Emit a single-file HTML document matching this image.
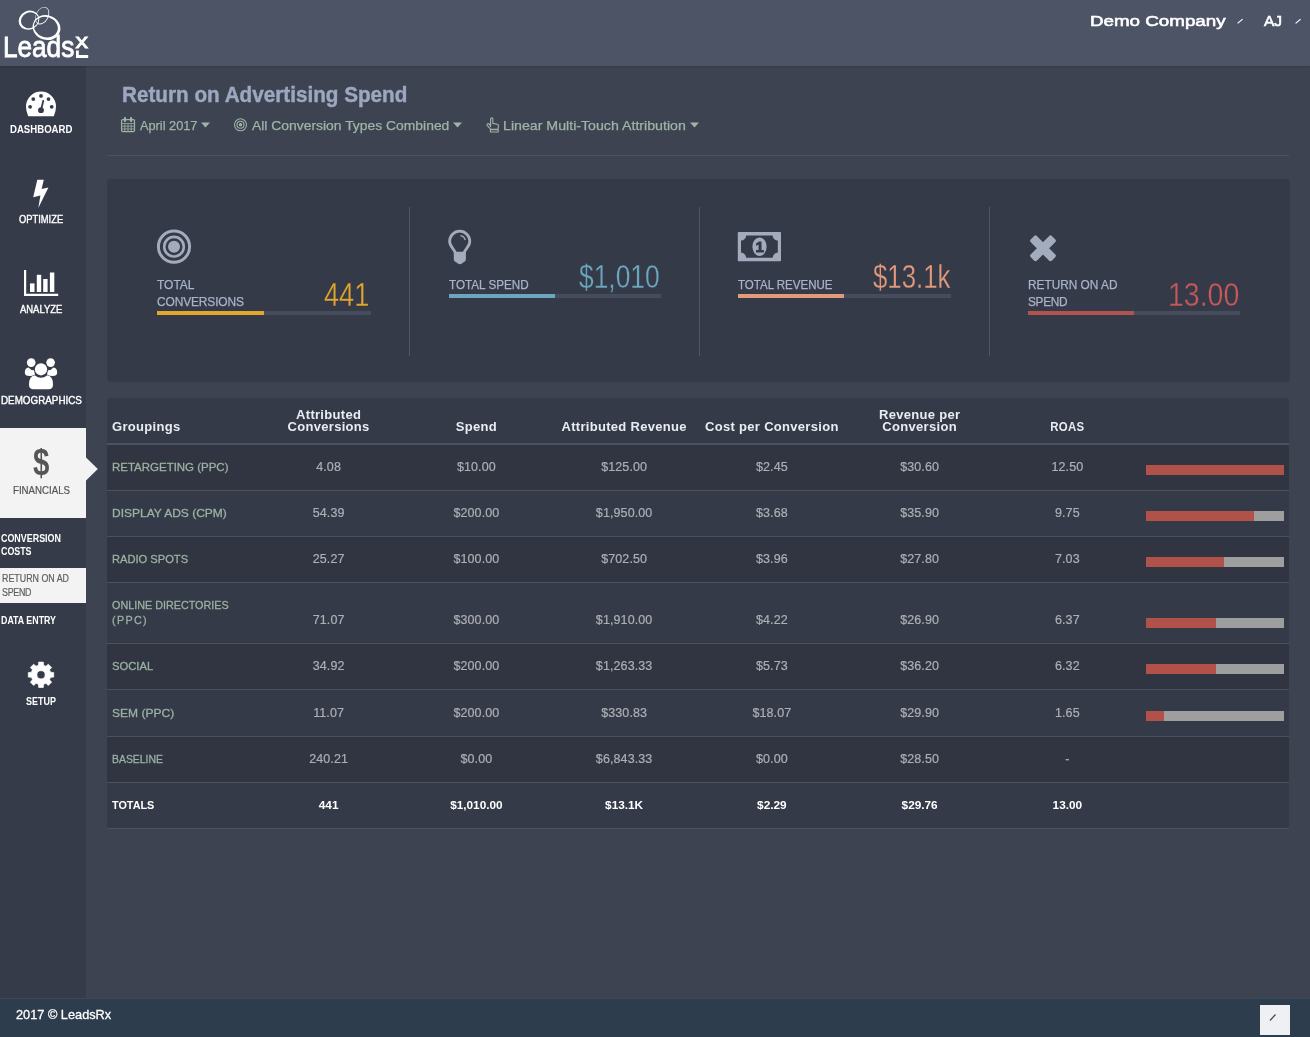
<!DOCTYPE html>
<html lang="en">
<head>
<meta charset="utf-8">
<title>LeadsRx - Return on Advertising Spend</title>
<style>
*{box-sizing:border-box;margin:0;padding:0}
html,body{width:1310px;height:1037px;overflow:hidden}
body{position:relative;background:#3e4352;font-family:"Liberation Sans",Arial,sans-serif;color:#fff;-webkit-font-smoothing:antialiased}
.abs,.t{position:absolute}
.t{white-space:nowrap;line-height:1}
header{position:absolute;left:0;top:0;width:1310px;height:65.5px;background:#4d5465;z-index:2;box-shadow:0 1px 1.5px rgba(0,0,0,.14)}
nav{position:absolute;left:0;top:66px;width:86px;height:932px;background:#353b49}
nav ul{list-style:none}
footer{position:absolute;left:0;top:998px;width:1310px;height:39px;background:#2e3d4d;border-top:1px solid #3c4959}
main{position:absolute;left:86px;top:66px;width:1224px;height:932px}
.panel{position:absolute;background:#353a48;border-radius:3px}
svg{position:absolute;overflow:visible}
table{position:absolute;left:107px;top:398px;width:1182px;border-collapse:separate;border-spacing:0;table-layout:fixed;background:#353a48;border-radius:3px 3px 0 0}
th,td{text-align:center;vertical-align:bottom;white-space:nowrap;padding:0}
th:first-child,td:first-child{text-align:left;padding-left:5px}
thead th{height:47px;border-bottom:2px solid #4b5161;font-size:13px;font-weight:bold;color:#e9ecf2;line-height:12px;padding-bottom:9.7px;letter-spacing:.3px}
tbody td{height:46px;border-bottom:1px solid #4b5161;font-size:12.5px;color:#adafb4;line-height:15px;padding-bottom:14.6px;letter-spacing:.1px;-webkit-text-stroke:.2px}
tbody tr.two td{height:61px}
tbody tr.r6 td{height:47px;padding-bottom:15.4px}
tbody tr.r6 .bar{margin-bottom:-.4px}
tbody tr:nth-child(odd){background:rgba(0,0,0,.07)}
tbody td:first-child{color:#9bb1a2;font-size:11.6px;letter-spacing:0;-webkit-text-stroke:.3px}
.g{display:inline-block;transform-origin:0 50%}
tbody .g{position:relative;top:-1px}
tbody tr.tot td{color:#fff;font-weight:bold;-webkit-text-stroke:0;height:46px;font-size:11.8px;letter-spacing:0;padding-bottom:14.9px}
tbody tr.tot td:first-child{font-size:11.6px;-webkit-text-stroke:0}
tbody tr.tot{background:none}
.big{-webkit-text-stroke:.3px #353a48}
.bar{display:block;width:138px;height:10px;background:#9e9e9e;margin:0 0 0.4px 4.7px}
.bar i{display:block;height:10px;background:#b0524a}
</style>
</head>
<body>
<header>
<a class="abs" style="left:0;top:0;width:100px;height:66px;display:block">
<svg width="100" height="66" viewBox="0 0 100 66" style="left:0;top:0"><g fill="#fff" fill-rule="evenodd"><path d="M38.61 15.72A10.60 9.30 -25 1 0 19.39 24.68A10.60 9.30 -25 1 0 38.61 15.72ZM37.86 16.50A9.00 7.70 -25 1 0 21.54 24.10A9.00 7.70 -25 1 0 37.86 16.50Z"/><path d="M46.57 7.49A9.30 6.30 -62 1 0 37.83 23.91A9.30 6.30 -62 1 0 46.57 7.49ZM46.11 7.95A8.55 5.55 -62 1 0 38.09 23.05A8.55 5.55 -62 1 0 46.11 7.95Z"/><path d="M59.81 31.93A14.00 12.00 18 1 0 33.19 23.27A14.00 12.00 18 1 0 59.81 31.93ZM57.41 30.84A12.10 10.10 18 1 0 34.39 23.36A12.10 10.10 18 1 0 57.41 30.84Z"/></g><text x="2.9" y="57.2" font-size="29.6" fill="#fff" stroke="#fff" stroke-width=".8" textLength="71.4" lengthAdjust="spacingAndGlyphs">Leads</text><text x="75.5" y="48.2" font-size="20.6" fill="#fff" stroke="#fff" stroke-width=".8" textLength="12.6" lengthAdjust="spacingAndGlyphs">x</text><path d="M77.4 50.4V56.5H88.2" stroke="#fff" stroke-width="2.8" fill="none"/></svg>
</a>
<span class="t" style="left:1089.5px;top:13.0px;font-size:15.5px;color:#fff;transform:scaleX(1.2108);transform-origin:0 0;-webkit-text-stroke:0.6px;">Demo Company</span><span class="t" style="left:1263.7px;top:13.0px;font-size:15.5px;color:#fff;transform:scaleX(1.0006);transform-origin:0 0;-webkit-text-stroke:0.6px;">AJ</span><svg width="8" height="8" viewBox="0 0 8 8" style="left:1236px;top:17px"><path d="M1.6 6.4L6.6 2.1" stroke="#fff" stroke-width="1.2"/></svg><svg width="8" height="8" viewBox="0 0 8 8" style="left:1294px;top:17px"><path d="M1.6 6.4L6.6 2.1" stroke="#fff" stroke-width="1.2"/></svg>
</header>
<nav>
<ul>
<li><svg width="32" height="26" viewBox="25 91 32 26" style="left:25px;top:25px"><path d="M28.2 116.2Q26 111.6 26 106.6A15 15 0 0 1 56 106.6Q56 111.6 53.8 116.2Z" fill="#fff"/><g fill="#353b49"><circle cx="41" cy="95.9" r="1.9"/><circle cx="33.3" cy="99.1" r="1.9"/><circle cx="48.5" cy="99.1" r="1.9"/><circle cx="30.1" cy="106.8" r="1.9"/><circle cx="51.7" cy="106.8" r="1.9"/><circle cx="41" cy="110.2" r="2.9"/></g><path d="M41.2 109.5L43.2 101" stroke="#353b49" stroke-width="1.8" stroke-linecap="round"/></svg><span class="t" style="left:9.6px;top:57.5px;font-size:11.5px;color:#fff;font-weight:bold;transform:scaleX(0.8348);transform-origin:0 0;">DASHBOARD</span></li>
<li><svg width="18" height="30" viewBox="32 179 18 30" style="left:32px;top:113px"><path d="M37.3 179.8H43.8L41.6 188.9L48.4 187.4L38.3 208L40.4 195.6L33.2 197.3Z" fill="#fff"/></svg><span class="t" style="left:18.8px;top:147.7px;font-size:11.2px;color:#fff;font-weight:normal;transform:scaleX(0.8358);transform-origin:0 0;-webkit-text-stroke:0.4px;">OPTIMIZE</span></li>
<li><svg width="36" height="28" viewBox="23 269 36 28" style="left:23px;top:203px"><g fill="#fff"><path d="M24 270h2.2v23.8H58.2v2.2H24z"/><rect x="30" y="283.4" width="4.5" height="8.6"/><rect x="36.8" y="274.8" width="4.4" height="17.2"/><rect x="43.2" y="279" width="4.4" height="13"/><rect x="49.9" y="272.5" width="4.4" height="19.5"/></g></svg><span class="t" style="left:19.6px;top:238.4px;font-size:11.2px;color:#fff;font-weight:normal;transform:scaleX(0.8445);transform-origin:0 0;-webkit-text-stroke:0.4px;">ANALYZE</span></li>
<li><svg width="34" height="33" viewBox="24 357 34 33" style="left:24px;top:291px"><g fill="#fff"><circle cx="31.2" cy="362.6" r="4.3"/><circle cx="50.6" cy="362.6" r="4.3"/><path d="M24.8 372.5Q24.8 367.6 28.6 367.4Q31 370.4 34 370.2L35 374.5Q31 376.5 29.5 376Q24.8 376 24.8 372.5Z"/><path d="M57.2 372.5Q57.2 367.6 53.4 367.4Q51 370.4 48 370.2L47 374.5Q51 376.5 52.5 376Q57.2 376 57.2 372.5Z"/><circle cx="41" cy="369.3" r="6.1"/><path d="M29 384.5Q29 376 34.6 375.2Q38 377.8 41 377.8Q44 377.8 47.4 375.2Q53 376 53 384.5Q53 389.3 48.6 389.3H33.4Q29 389.3 29 384.5Z"/></g></svg><span class="t" style="left:1.0px;top:329.1px;font-size:11.2px;color:#fff;font-weight:normal;transform:scaleX(0.8795);transform-origin:0 0;-webkit-text-stroke:0.4px;">DEMOGRAPHICS</span></li>
<li><span class="abs" style="left:0;top:362.4px;width:86.2px;height:89.8px;background:#f3f3f4"></span><svg width="14" height="26" viewBox="0 0 14 26" style="left:85px;top:390px"><path d="M0 0.6L12.8 13L0 25.4Z" fill="#f3f3f4"/></svg><span class="t" style="left:33.0px;top:379.3px;font-size:36.5px;color:#555;font-weight:bold;transform:scaleX(0.8081);transform-origin:0 0;">$</span><span class="t" style="left:12.5px;top:419.0px;font-size:11px;color:#555;font-weight:normal;transform:scaleX(0.8798);transform-origin:0 0;-webkit-text-stroke:0.2px;">FINANCIALS</span></li>
<li><span class="t" style="left:1.0px;top:465.5px;font-size:10.2px;line-height:13px;color:#fff;font-weight:bold;transform:scaleX(0.875);transform-origin:0 0;">CONVERSION <br><span style="letter-spacing:-0.07px">COSTS</span></span></li>
<li><span class="abs" style="left:0;top:502px;width:86px;height:35.3px;background:#f3f3f4"></span><span class="t" style="left:1.5px;top:506.4px;font-size:10px;line-height:13.5px;color:#5e5e5e;transform:scaleX(0.8867);transform-origin:0 0;-webkit-text-stroke:0.2px;">RETURN ON AD <br><span style="letter-spacing:-0.3px">SPEND</span></span></li>
<li><span class="t" style="left:1.0px;top:549.1px;font-size:10.5px;color:#fff;font-weight:bold;transform:scaleX(0.8419);transform-origin:0 0;">DATA ENTRY</span></li>
<li><svg width="28" height="28" viewBox="27 661 28 28" style="left:27px;top:595px"><path fill-rule="evenodd" fill="#fff" d="M38.46 665.23L38.68 662.11L43.32 662.11L43.54 665.23L45.97 666.24L48.33 664.19L51.61 667.47L49.56 669.83L50.57 672.26L53.69 672.48L53.69 677.12L50.57 677.34L49.56 679.77L51.61 682.13L48.33 685.41L45.97 683.36L43.54 684.37L43.32 687.49L38.68 687.49L38.46 684.37L36.03 683.36L33.67 685.41L30.39 682.13L32.44 679.77L31.43 677.34L28.31 677.12L28.31 672.48L31.43 672.26L32.44 669.83L30.39 667.47L33.67 664.19L36.03 666.24ZM36.90 674.80a4.1 4.1 0 1 0 8.2 0a4.1 4.1 0 1 0 -8.2 0Z" stroke="#fff" stroke-width=".7" stroke-linejoin="round"/></svg><span class="t" style="left:26.0px;top:630.1px;font-size:11.5px;color:#fff;font-weight:bold;transform:scaleX(0.7825);transform-origin:0 0;">SETUP</span></li>
</ul>
</nav>
<main>
<h1 class="t" style="left:35.6px;top:18.5px;font-size:21.5px;color:#9da8c0;font-weight:bold;transform:scaleX(0.9621);transform-origin:0 0;-webkit-text-stroke:0.4px;">Return on Advertising Spend</h1>
<div class="filters">
<svg width="16" height="17" viewBox="120 116 16 17" style="left:34px;top:50px"><g fill="none" stroke="#9fb4a7"><rect x="121.6" y="119.6" width="12.9" height="12" rx="1.2" stroke-width="1.2"/><path d="M121.6 123.4H134.5M121.6 126.2H134.5M121.6 129H134.5M124.8 123.4V131.6M128 123.4V131.6M131.2 123.4V131.6" stroke-width=".8"/><path d="M125 118V121M131.1 118V121" stroke-width="2.2" stroke-linecap="round"/></g></svg><span class="t" style="left:53.5px;top:52.8px;font-size:13.2px;color:#9fb4a7;transform:scaleX(0.9674);transform-origin:0 0;-webkit-text-stroke:0.25px;">April 2017</span><svg width="11" height="8" viewBox="200 121 11 8" style="left:114px;top:55px"><path d="M201 122.5H210L205.5 127.4Z" fill="#9fb4a7"/></svg><svg width="15" height="15" viewBox="233 117 15 15" style="left:147px;top:51px"><g fill="none" stroke="#9fb4a7" stroke-width="1.1"><circle cx="240.5" cy="124.8" r="6"/><circle cx="240.5" cy="124.8" r="3.5"/></g><circle cx="240.5" cy="124.8" r="1.7" fill="#9fb4a7"/></svg><span class="t" style="left:165.5px;top:52.8px;font-size:13.2px;color:#9fb4a7;transform:scaleX(1.0529);transform-origin:0 0;-webkit-text-stroke:0.25px;">All Conversion Types Combined</span><svg width="11" height="8" viewBox="452 121 11 8" style="left:366px;top:55px"><path d="M453 122.5H462L457.5 127.4Z" fill="#9fb4a7"/></svg><svg width="15" height="17" viewBox="485 116 15 17" style="left:399px;top:50px"><g fill="none" stroke="#9fb4a7" stroke-width="1.1" stroke-linejoin="round"><path d="M490.6 126.6V119.2Q490.6 117.9 491.7 117.9Q492.8 117.9 492.8 119.2V123.4L497.2 124.2Q498.7 124.5 498.5 126.2L497.9 129.4H490.9L487.3 125.6Q486.6 124.4 487.6 123.8Q488.6 123.3 489.6 124.4Z"/><rect x="490.4" y="129.6" width="7.8" height="2.4"/></g></svg><span class="t" style="left:417.0px;top:52.8px;font-size:13.2px;color:#9fb4a7;transform:scaleX(1.0751);transform-origin:0 0;-webkit-text-stroke:0.25px;">Linear Multi-Touch Attribution</span><svg width="11" height="8" viewBox="689 121 11 8" style="left:603px;top:55px"><path d="M690 122.5H699L694.5 127.4Z" fill="#9fb4a7"/></svg>
</div>
<hr class="abs" style="left:21px;top:88.5px;width:1182px;height:0;border:0;border-top:1px solid #4c5262">
<section class="panel" style="left:21px;top:113px;width:1182.6px;height:202.6px">
<i class="abs" style="left:302.3px;top:28px;width:1px;height:149px;background:#50566a"></i><i class="abs" style="left:592.3px;top:28px;width:1px;height:149px;background:#50566a"></i><i class="abs" style="left:881.8px;top:28px;width:1px;height:149px;background:#50566a"></i>
<div class="stat"><svg width="36" height="36" viewBox="156 229 36 36" style="left:49px;top:50px"><g fill="none" stroke="#a3acbd"><circle cx="174" cy="246.7" r="15.6" stroke-width="3"/><circle cx="174" cy="246.7" r="9.8" stroke-width="2.6"/></g><circle cx="174" cy="246.7" r="6" fill="#a3acbd"/></svg><span class="t" style="left:50.0px;top:98.3px;font-size:12.6px;line-height:17px;color:#a9b4c8;transform:scaleX(0.9507);transform-origin:0 0;-webkit-text-stroke:0.25px;">TOTAL <br><span style="letter-spacing:-0.16px">CONVERSIONS</span></span><span class="t big" style="left:217.3px;top:98.6px;font-size:33px;color:#e3a62d;transform:scaleX(0.8227);transform-origin:0 0;">441</span><span class="abs" style="left:49.5px;top:132.2px;width:214.5px;height:4px;background:#464c5b"><i class="abs" style="left:0;top:0;width:107.2px;height:4px;background:#e3a62d"></i></span></div>
<div class="stat"><svg width="26" height="37" viewBox="447 228 26 37" style="left:340px;top:49px"><g fill="none" stroke="#a3acbd"><path d="M455.3 253.2C455.1 249.4 449.6 247 449.6 241.3A10.1 10.1 0 0 1 469.8 241.3C469.8 247 464.3 249.4 464.1 253.2" stroke-width="2.8"/><path d="M460.4 235.6Q464.4 236.2 465.2 240" stroke-width="1.3"/></g><path d="M453.8 251.8H465.9V259.4Q465.9 261.5 463.2 262.4Q461.6 264.2 459.85 264.2Q458.1 264.2 456.5 262.4Q453.8 261.5 453.8 259.4Z" fill="#a3acbd"/></svg><span class="t" style="left:341.8px;top:99.6px;font-size:12.6px;color:#a9b4c8;transform:scaleX(0.928);transform-origin:0 0;-webkit-text-stroke:0.25px;">TOTAL SPEND</span><span class="t big" style="left:471.6px;top:81.4px;font-size:33px;color:#6ba5be;transform:scaleX(0.7986);transform-origin:0 0;">$1,010</span><span class="abs" style="left:341.5px;top:115px;width:212.0px;height:4px;background:#464c5b"><i class="abs" style="left:0;top:0;width:106.0px;height:4px;background:#6ba5be"></i></span></div>
<div class="stat"><svg width="45" height="31" viewBox="737 231 45 31" style="left:630px;top:52px"><path fill-rule="evenodd" fill="#a3acbd" d="M738.6 232H780.2Q781 232 781 232.8V260.4Q781 261.2 780.2 261.2H738.6Q737.8 261.2 737.8 260.4V232.8Q737.8 232 738.6 232ZM741 240.6V252.6Q745.6 253.2 746.2 257.8H772.6Q773.2 253.2 777.8 252.6V240.6Q773.2 240 772.6 235.4H746.2Q745.6 240 741 240.6Z"/><ellipse cx="759.5" cy="246.7" rx="7.1" ry="9.3" fill="#a3acbd"/><text x="759.6" y="252" font-size="15" font-weight="bold" text-anchor="middle" fill="#353a48" stroke="#353a48" stroke-width=".9">1</text></svg><span class="t" style="left:631.0px;top:99.6px;font-size:12.6px;color:#a9b4c8;transform:scaleX(0.914);transform-origin:0 0;-webkit-text-stroke:0.25px;">TOTAL REVENUE</span><span class="t big" style="left:765.5px;top:81.4px;font-size:33px;color:#e39a7c;transform:scaleX(0.7818);transform-origin:0 0;">$13.1k</span><span class="abs" style="left:630.7px;top:115px;width:212.89999999999998px;height:4px;background:#464c5b"><i class="abs" style="left:0;top:0;width:106.4px;height:4px;background:#e39a7c"></i></span></div>
<div class="stat"><svg width="30" height="29" viewBox="1028 234 30 29" style="left:921px;top:55px"><g fill="#a3acbd" transform="translate(1043 248.3)"><rect x="-15" y="-4.4" width="30" height="8.8" rx="2.2" transform="rotate(45)"/><rect x="-15" y="-4.4" width="30" height="8.8" rx="2.2" transform="rotate(-45)"/></g></svg><span class="t" style="left:921.0px;top:98.3px;font-size:12.6px;line-height:17px;color:#a9b4c8;transform:scaleX(0.9401);transform-origin:0 0;-webkit-text-stroke:0.25px;">RETURN ON AD <br><span style="letter-spacing:-0.3px">SPEND</span></span><span class="t big" style="left:1060.7px;top:98.6px;font-size:33px;color:#c4585a;transform:scaleX(0.8634);transform-origin:0 0;">13.00</span><span class="abs" style="left:921px;top:132.2px;width:212px;height:4px;background:#464c5b"><i class="abs" style="left:0;top:0;width:106.0px;height:4px;background:#b3534f"></i></span></div>
</section>
<table style="left:21px;top:332px">
<colgroup><col style="width:147.75px"><col style="width:147.75px"><col style="width:147.75px"><col style="width:147.75px"><col style="width:147.75px"><col style="width:147.75px"><col style="width:147.75px"><col style="width:147.75px"></colgroup>
<thead>
<tr><th>Groupings</th><th>Attributed <br>Conversions</th><th>Spend</th><th>Attributed Revenue</th><th>Cost per Conversion</th><th>Revenue per <br>Conversion</th><th><span class="g" style="transform:scaleX(.88);transform-origin:50% 50%">ROAS</span></th><th></th></tr>
</thead>
<tbody>
<tr><td><span class="g" style="transform:scaleX(0.99)">RETARGETING (PPC)</span></td><td>4.08</td><td>$10.00</td><td>$125.00</td><td>$2.45</td><td>$30.60</td><td>12.50</td><td><span class="bar"><i style="width:100%"></i></span></td></tr>
<tr><td><span class="g" style="transform:scaleX(1.034)">DISPLAY ADS (CPM)</span></td><td>54.39</td><td>$200.00</td><td>$1,950.00</td><td>$3.68</td><td>$35.90</td><td>9.75</td><td><span class="bar"><i style="width:78%"></i></span></td></tr>
<tr><td><span class="g" style="transform:scaleX(0.96)">RADIO SPOTS</span></td><td>25.27</td><td>$100.00</td><td>$702.50</td><td>$3.96</td><td>$27.80</td><td>7.03</td><td><span class="bar"><i style="width:56.3%"></i></span></td></tr>
<tr class="two"><td><span class="g" style="transform:scaleX(0.93)">ONLINE DIRECTORIES <br><span style="letter-spacing:1.43px">(PPC)</span></span></td><td>71.07</td><td>$300.00</td><td>$1,910.00</td><td>$4.22</td><td>$26.90</td><td>6.37</td><td><span class="bar"><i style="width:51%"></i></span></td></tr>
<tr><td><span class="g" style="transform:scaleX(0.968)">SOCIAL</span></td><td>34.92</td><td>$200.00</td><td>$1,263.33</td><td>$5.73</td><td>$36.20</td><td>6.32</td><td><span class="bar"><i style="width:50.8%"></i></span></td></tr>
<tr class="r6"><td><span class="g" style="transform:scaleX(1.038)">SEM (PPC)</span></td><td>11.07</td><td>$200.00</td><td>$330.83</td><td>$18.07</td><td>$29.90</td><td>1.65</td><td><span class="bar"><i style="width:13.2%"></i></span></td></tr>
<tr><td><span class="g" style="transform:scaleX(0.899)">BASELINE</span></td><td>240.21</td><td>$0.00</td><td>$6,843.33</td><td>$0.00</td><td>$28.50</td><td>-</td><td></td></tr>
<tr class="tot"><td><span class="g" style="transform:scaleX(0.935)">TOTALS</span></td><td>441</td><td>$1,010.00</td><td>$13.1K</td><td>$2.29</td><td>$29.76</td><td>13.00</td><td></td></tr>
</tbody>
</table>
</main>
<footer>
<span class="t" style="left:16.3px;top:8.9px;font-size:13.5px;color:#fff;transform:scaleX(0.9448);transform-origin:0 0;-webkit-text-stroke:0.3px;">2017 © LeadsRx</span><span class="abs" style="left:1260px;top:6px;width:30px;height:30px;background:#eef0f3"></span><svg width="8" height="9" viewBox="0 0 8 9" style="left:1269px;top:14px"><path d="M1 7.5L6.5 1.5" stroke="#444" stroke-width="1.2"/></svg>
</footer>
</body>
</html>
